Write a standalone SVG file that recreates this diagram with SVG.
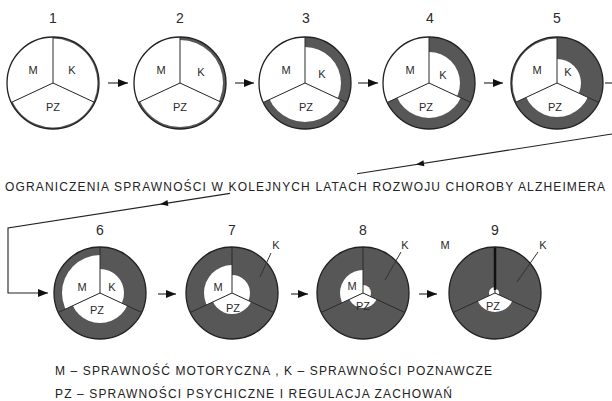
<svg xmlns="http://www.w3.org/2000/svg" xmlns:xlink="http://www.w3.org/1999/xlink" width="612" height="401" viewBox="0 0 612 401">
<style>
.dark{fill:#575757}
.w{fill:#fff}
.ol{fill:none;stroke:#222;stroke-width:1.3}
.spk{fill:none;stroke:#2a2a2a;stroke-width:1}
.lbl{font-family:"Liberation Sans",Arial,sans-serif;font-size:11px;fill:#2a2a2a;text-anchor:middle}
.num{font-family:"Liberation Sans",Arial,sans-serif;font-size:14px;fill:#2a2a2a;text-anchor:middle}
.txt{font-family:"Liberation Sans",Arial,sans-serif;font-size:12px;fill:#222}
.ln{fill:none;stroke:#222;stroke-width:1.1}
.ld{fill:none;stroke:#333;stroke-width:1}
</style>
<defs>
<clipPath id="cK" clipPathUnits="userSpaceOnUse"><path d="M0,0 L0,-60 A60,60 0 0 1 54.38,25.36 Z"/></clipPath>
<clipPath id="cPZ" clipPathUnits="userSpaceOnUse"><path d="M0,0 L54.38,25.36 A60,60 0 0 1 -54.38,25.36 Z"/></clipPath>
<clipPath id="cM" clipPathUnits="userSpaceOnUse"><path d="M0,0 L-54.38,25.36 A60,60 0 0 1 0,-60 Z"/></clipPath>
<marker id="arr" viewBox="0 0 10 8" refX="10" refY="4" markerWidth="10" markerHeight="8" markerUnits="userSpaceOnUse" orient="auto"><path d="M0,0 L10,4 L0,8 Z" fill="#111"/></marker>
<path id="ah" d="M0,0 L-8,-3 L-8,3 Z" fill="#111"/>
<path id="spokes" d="M0,-46 V0 M0,0 L41.69,19.44 M0,0 L-41.69,19.44"/>
</defs>

<g id="connectors">
<line class="ln" x1="108" y1="83" x2="128" y2="83" marker-end="url(#arr)"/>
<line class="ln" x1="235" y1="83" x2="254" y2="83" marker-end="url(#arr)"/>
<line class="ln" x1="358" y1="83" x2="378" y2="83" marker-end="url(#arr)"/>
<line class="ln" x1="484" y1="83" x2="503" y2="83" marker-end="url(#arr)"/>
<line class="ln" x1="605" y1="83" x2="612" y2="83"/>
<line class="ln" x1="612" y1="134" x2="357" y2="173.7"/>
<use xlink:href="#ah" transform="translate(416,164.5) rotate(171.15)"/>
<polyline class="ln" points="230,193.4 8,228 8,293 48,293" marker-end="url(#arr)"/>
<use xlink:href="#ah" transform="translate(160,204.3) rotate(171.15)"/>
<line class="ln" x1="158" y1="294" x2="176" y2="294" marker-end="url(#arr)"/>
<line class="ln" x1="291" y1="294" x2="308" y2="294" marker-end="url(#arr)"/>
<line class="ln" x1="419" y1="294" x2="437" y2="294" marker-end="url(#arr)"/>
</g>

<g id="n1">
<text class="num" x="53" y="23">1</text>
<g transform="translate(53,83)">
<circle r="46" class="dark"/>
<circle r="44.5" class="w" clip-path="url(#cK)"/>
<circle r="44.5" class="w" clip-path="url(#cPZ)"/>
<circle r="46" class="w" clip-path="url(#cM)"/>
<use xlink:href="#spokes" class="spk"/>
<circle r="46" class="ol"/>
<text class="lbl" x="-20" y="-9.5">M</text>
<text class="lbl" x="19" y="-9.5">K</text>
<text class="lbl" x="0" y="27.5">PZ</text>
</g>
</g>

<g id="n2">
<text class="num" x="180" y="23">2</text>
<g transform="translate(180,83)">
<circle r="46" class="dark"/>
<circle r="43" class="w" clip-path="url(#cK)"/>
<circle r="44" class="w" clip-path="url(#cPZ)"/>
<circle r="46" class="w" clip-path="url(#cM)"/>
<use xlink:href="#spokes" class="spk"/>
<circle r="46" class="ol"/>
<text class="lbl" x="-19" y="-9.5">M</text>
<text class="lbl" x="21" y="-7">K</text>
<text class="lbl" x="0" y="27.5">PZ</text>
</g>
</g>

<g id="n3">
<text class="num" x="306" y="23">3</text>
<g transform="translate(305,83)">
<circle r="46" class="dark"/>
<circle r="36" class="w" clip-path="url(#cK)"/>
<circle r="39" class="w" clip-path="url(#cPZ)"/>
<circle r="46" class="w" clip-path="url(#cM)"/>
<use xlink:href="#spokes" class="spk"/>
<circle r="46" class="ol"/>
<text class="lbl" x="-19" y="-9.5">M</text>
<text class="lbl" x="17" y="-5.5">K</text>
<text class="lbl" x="1" y="27.5">PZ</text>
</g>
</g>

<g id="n4">
<text class="num" x="430" y="23">4</text>
<g transform="translate(429,83)">
<circle r="46" class="dark"/>
<circle r="31" class="w" clip-path="url(#cK)"/>
<circle r="35" class="w" clip-path="url(#cPZ)"/>
<circle r="46" class="w" clip-path="url(#cM)"/>
<use xlink:href="#spokes" class="spk"/>
<circle r="46" class="ol"/>
<text class="lbl" x="-19" y="-9.5">M</text>
<text class="lbl" x="14" y="-4.5">K</text>
<text class="lbl" x="-3" y="27.5">PZ</text>
</g>
</g>

<g id="n5">
<text class="num" x="557" y="23">5</text>
<g transform="translate(557,83)">
<circle r="46" class="dark"/>
<circle r="24" class="w" clip-path="url(#cK)"/>
<circle r="34" class="w" clip-path="url(#cPZ)"/>
<circle r="44.5" class="w" clip-path="url(#cM)"/>
<use xlink:href="#spokes" class="spk"/>
<circle r="46" class="ol"/>
<text class="lbl" x="-20" y="-9.5">M</text>
<text class="lbl" x="11" y="-7.5">K</text>
<text class="lbl" x="-2" y="27.5">PZ</text>
</g>
</g>

<g id="title">
<text class="txt" x="5" y="191" textLength="600" lengthAdjust="spacing">OGRANICZENIA SPRAWNOŚCI W KOLEJNYCH LATACH ROZWOJU CHOROBY ALZHEIMERA</text>
</g>

<g id="n6">
<text class="num" x="100" y="235">6</text>
<g transform="translate(100,293)">
<circle r="46" class="dark"/>
<circle r="24" class="w" clip-path="url(#cK)"/>
<circle r="30" class="w" clip-path="url(#cPZ)"/>
<circle r="38" class="w" clip-path="url(#cM)"/>
<use xlink:href="#spokes" class="spk"/>
<circle r="46" class="ol"/>
<text class="lbl" x="-18" y="-2.5">M</text>
<text class="lbl" x="12" y="-2.5">K</text>
<text class="lbl" x="-3" y="20.5">PZ</text>
</g>
</g>

<g id="n7">
<text class="num" x="232" y="235">7</text>
<g transform="translate(232,293)">
<circle r="46" class="dark"/>
<circle r="18" class="w" clip-path="url(#cK)"/>
<circle r="21" class="w" clip-path="url(#cPZ)"/>
<circle r="28" class="w" clip-path="url(#cM)"/>
<use xlink:href="#spokes" class="spk"/>
<circle r="46" class="ol"/>
<text class="lbl" x="-14" y="-2.5">M</text>
<text class="lbl" x="1" y="18.5">PZ</text>
<line class="ld" x1="39" y1="-40" x2="28" y2="-16"/>
<text class="lbl" x="44" y="-44">K</text>
</g>
</g>

<g id="n8">
<text class="num" x="363" y="235">8</text>
<g transform="translate(363,293)">
<circle r="46" class="dark"/>
<circle r="8" class="w" clip-path="url(#cK)"/>
<circle r="15" class="w" clip-path="url(#cPZ)"/>
<circle r="23" class="w" clip-path="url(#cM)"/>
<use xlink:href="#spokes" class="spk"/>
<circle r="46" class="ol"/>
<text class="lbl" x="-11" y="-3.5">M</text>
<text class="lbl" x="0" y="16.5">PZ</text>
<line class="ld" x1="38" y1="-41" x2="22" y2="-13"/>
<text class="lbl" x="42" y="-44">K</text>
</g>
</g>

<g id="n9">
<text class="num" x="495" y="235">9</text>
<text class="lbl" x="445" y="249">M</text>
<g transform="translate(495,293)">
<circle r="46" class="dark"/>
<circle r="4" class="w" clip-path="url(#cK)"/>
<circle r="19" class="w" clip-path="url(#cPZ)"/>
<circle r="6" class="w" clip-path="url(#cM)"/>
<use xlink:href="#spokes" class="spk"/>
<line x1="0" y1="-46" x2="0" y2="-3" stroke="#111" stroke-width="2.5"/>
<circle r="46" class="ol"/>
<text class="lbl" x="-2" y="16.5">PZ</text>
<line class="ld" x1="43" y1="-41" x2="22" y2="-11"/>
<text class="lbl" x="48" y="-44">K</text>
</g>
</g>

<g id="legend">
<text class="txt" x="55" y="375" textLength="437" lengthAdjust="spacing">M – SPRAWNOŚĆ MOTORYCZNA , K – SPRAWNOŚCI POZNAWCZE</text>
<text class="txt" x="55" y="398" textLength="397" lengthAdjust="spacing">PZ – SPRAWNOŚCI PSYCHICZNE I REGULACJA ZACHOWAŃ</text>
</g>
</svg>
